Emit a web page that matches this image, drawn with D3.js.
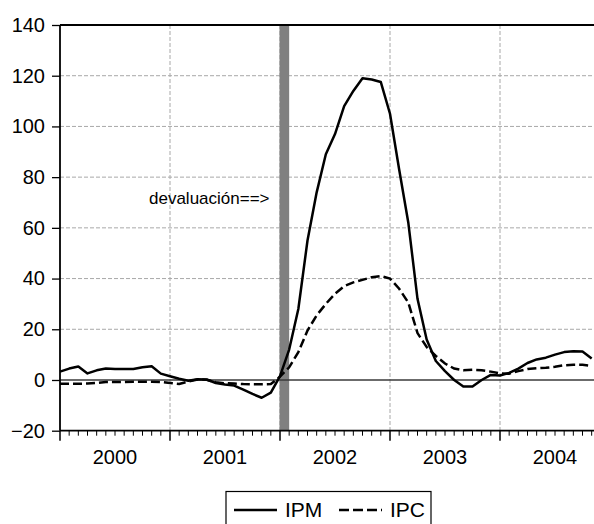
<!DOCTYPE html>
<html>
<head>
<meta charset="utf-8">
<script src="https://cdn.jsdelivr.net/npm/d3@7"></script>
<style>
  body { margin: 0; background: #fff; }
  text { font-family: "Liberation Sans", Arial, sans-serif; fill: #000; }
</style>
</head>
<body>
<div id="chart"></div>
<script>
// meses desde 2000M01 hasta 2004M11
const years = ["2000", "2001", "2002", "2003", "2004"];
const yTicks = [-20, 0, 20, 40, 60, 80, 100, 120, 140];

const ipm = [3.3, 4.5, 5.3, 2.6, 3.8, 4.5, 4.3, 4.3, 4.3, 5, 5.4, 2.5,
  1.5, 0.5, -0.3, 0.3, 0.2, -1.2, -1.8, -2.2, -3.8, -5.5, -7, -5,
  1.5, 12, 28, 55, 74, 89, 97, 108, 114, 119, 118.5, 117.5,
  105, 83, 62, 32, 16, 7.5, 3.5, 0, -2.6, -2.6, 0, 2,
  1.8, 2.8, 4.5, 6.7, 8.1, 8.8, 10, 11, 11.3, 11.2, 8.5];

const ipc = [-1.5, -1.5, -1.5, -1.4, -1.2, -0.8, -0.8, -0.8, -0.7, -0.7, -0.7, -0.8,
  -1.2, -1.6, -0.6, 0.2, 0.1, -0.9, -1.3, -1.4, -1.6, -1.7, -1.7, -1.6,
  1.3, 5, 11, 19.5, 25.5, 30, 34, 37, 38.5, 39.5, 40.5, 41,
  40, 36, 30.5, 18.5, 13, 9.5, 6.5, 4.5, 3.8, 4, 3.8, 3.3,
  2.6, 2.5, 3.5, 4.3, 4.6, 4.8, 5.2, 5.8, 6, 6, 5.6];

const devalIndex = 24; // 2002M01
const legendItems = [
  { name: "IPM", dash: null },
  { name: "IPC", dash: "10,4" }
];

const width = 594, height = 524;
const plotLeft = 60, plotRight = 594, plotTop = 25, plotBottom = 430.7;

const svg = d3.select("#chart").append("svg")
  .attr("width", width)
  .attr("height", height);

const x = d3.scaleLinear().domain([0, 58]).range([plotLeft, plotLeft + 58 * 110 / 12]);
const y = d3.scaleLinear().domain([-20, 140]).range([plotBottom, plotTop]);

// rejilla horizontal
svg.append("g")
  .selectAll("line")
  .data(yTicks.filter((d) => d > 0 && d < 140))
  .enter()
  .append("line")
  .attr("x1", plotLeft).attr("x2", plotRight)
  .attr("y1", (d) => y(d)).attr("y2", (d) => y(d))
  .attr("stroke", "#a8a8a8")
  .attr("stroke-width", 1)
  .attr("stroke-dasharray", "4,2");

// rejilla vertical (inicio de cada año)
svg.append("g")
  .selectAll("line")
  .data(d3.range(1, years.length))
  .enter()
  .append("line")
  .attr("x1", (d) => x(d * 12)).attr("x2", (d) => x(d * 12))
  .attr("y1", plotTop).attr("y2", plotBottom)
  .attr("stroke", "#a8a8a8")
  .attr("stroke-width", 1)
  .attr("stroke-dasharray", "4,2");

// barra de la devaluación
svg.append("rect")
  .attr("x", x(devalIndex) - 0.5)
  .attr("y", plotTop)
  .attr("width", x(devalIndex + 1) - x(devalIndex) + 0.5)
  .attr("height", plotBottom - plotTop)
  .attr("fill", "#808080");

// línea del cero
svg.append("line")
  .attr("x1", plotLeft).attr("x2", plotRight)
  .attr("y1", y(0)).attr("y2", y(0))
  .attr("stroke", "#3a3a3a")
  .attr("stroke-width", 1.5);

// series
const line = d3.line()
  .x((d, i) => x(i))
  .y((d) => y(d));

svg.append("path")
  .datum(ipc)
  .attr("d", line)
  .attr("fill", "none")
  .attr("stroke", "#000")
  .attr("stroke-width", 2.5)
  .attr("stroke-dasharray", "9,4");

svg.append("path")
  .datum(ipm)
  .attr("d", line)
  .attr("fill", "none")
  .attr("stroke", "#000")
  .attr("stroke-width", 2.5)
  .attr("stroke-linejoin", "round");

// marco superior
svg.append("line")
  .attr("x1", plotLeft).attr("x2", plotRight)
  .attr("y1", plotTop).attr("y2", plotTop)
  .attr("stroke", "#000").attr("stroke-width", 1.8);

// eje Y
svg.append("g")
  .attr("transform", `translate(${plotLeft},0)`)
  .call(d3.axisLeft(y).tickValues(yTicks).tickSize(8).tickPadding(7).tickFormat(d3.format("d")))
  .call((g) => g.select(".domain").attr("stroke-width", 1.8).attr("d", `M0,${plotTop}V${plotBottom}`))
  .call((g) => g.selectAll(".tick line").attr("stroke-width", 1.3))
  .call((g) => g.selectAll(".tick text")
    .style("font-size", "20px")
    .style("font-family", "'Liberation Sans', Arial, sans-serif")
    .attr("fill", "#000"));

// eje X: meses (menores) y años (mayores)
const xAxis = svg.append("g").attr("transform", `translate(0,${plotBottom})`);

xAxis.append("line")
  .attr("x1", plotLeft).attr("x2", plotRight)
  .attr("y1", 0).attr("y2", 0)
  .attr("stroke", "#000").attr("stroke-width", 1.8);

xAxis.selectAll(".minor")
  .data(d3.range(0, 59))
  .enter()
  .append("line")
  .attr("class", "minor")
  .attr("x1", (d) => x(d)).attr("x2", (d) => x(d))
  .attr("y1", 0)
  .attr("y2", (d) => (d % 12 === 0 ? 10 : 5))
  .attr("stroke", "#000")
  .attr("stroke-width", (d) => (d % 12 === 0 ? 1.5 : 1));

xAxis.selectAll(".year")
  .data(years)
  .enter()
  .append("text")
  .attr("class", "year")
  .attr("x", (d, i) => x(i * 12 + 6))
  .attr("y", 33)
  .attr("text-anchor", "middle")
  .style("font-size", "20px")
  .text((d) => d);

// anotación
svg.append("text")
  .attr("x", 149)
  .attr("y", 204)
  .style("font-size", "17px")
  .text("devaluación==>");

// leyenda
const legend = svg.append("g");
legend.append("rect")
  .attr("x", 226).attr("y", 491.5)
  .attr("width", 205).attr("height", 50)
  .attr("fill", "#fff")
  .attr("stroke", "#000")
  .attr("stroke-width", 1.2);

const itemX = [234, 339];
legendItems.forEach((item, i) => {
  legend.append("line")
    .attr("x1", itemX[i]).attr("x2", itemX[i] + 43)
    .attr("y1", 510).attr("y2", 510)
    .attr("stroke", "#000")
    .attr("stroke-width", 2.5)
    .attr("stroke-dasharray", item.dash);
  legend.append("text")
    .attr("x", itemX[i] + 51)
    .attr("y", 517)
    .style("font-size", "21px")
    .text(item.name);
});
</script>
</body>
</html>
